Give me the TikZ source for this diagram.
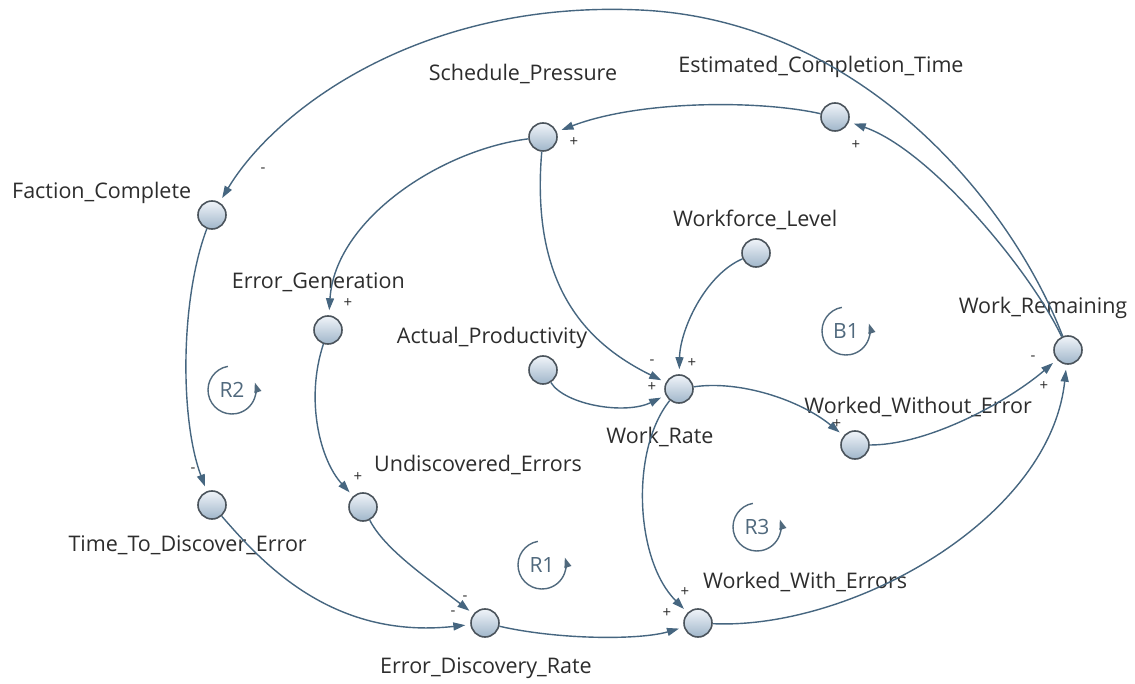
\documentclass[tikz,border=0pt]{standalone}
\usepackage{fontspec}
\setmainfont{Open Sans}
\usetikzlibrary{arrows.meta}
\definecolor{arrc}{RGB}{70,102,128}
\definecolor{txt}{RGB}{45,45,45}
\definecolor{loopc}{RGB}{80,105,125}
\definecolor{nodetop}{RGB}{240,244,249}
\definecolor{nodebot}{RGB}{160,182,202}
\definecolor{nodeline}{RGB}{75,84,92}
\begin{document}
\begin{tikzpicture}[x=1pt,y=-1pt,
 var/.style={circle,draw=nodeline,line width=1.6pt,minimum size=28pt,inner sep=0pt,top color=nodetop,bottom color=nodebot},
 lab/.style={font=\fontsize{21.5}{24}\selectfont,text=txt,inner sep=0pt},
 sgn/.style={font=\fontsize{15}{16}\selectfont,text=txt,inner sep=0pt},
 lnk/.style={draw=arrc,line width=1.4pt,-{Triangle[length=12pt,width=8pt]},shorten >=5pt},
 loopm/.style={draw=loopc,line width=1.4pt,-{Triangle[length=10pt,width=7pt]}},
 looptxt/.style={font=\fontsize{21}{24}\selectfont,text=loopc,inner sep=0pt}]
\fill[white] (0,0) rectangle (1135,684);
\useasboundingbox (0,0) rectangle (1135,684);

% variables
\node[var] (ect)   at (835,117) {};
\node[var] (sp)    at (543,137) {};
\node[var] (fc)    at (212,215) {};
\node[var] (wl)    at (756,253) {};
\node[var] (eg)    at (328,330) {};
\node[var] (wrem)  at (1068,350) {};
\node[var] (ap)    at (543,370) {};
\node[var] (wr)    at (679,389) {};
\node[var] (wwe)   at (855,445) {};
\node[var] (ttd)   at (212,505) {};
\node[var] (ue)    at (363,507) {};
\node[var] (edr)   at (485,623) {};
\node[var] (wwerr) at (698,623) {};

% labels
\node[lab] (lect)  at (821,67) {Estimated\_Completion\_Time};
\node[lab] (lsp)   at (523,74) {Schedule\_Pressure};
\node[lab,anchor=west] (lfc) at (12,193) {Faction\_Complete};
\node[lab,anchor=west] (lwl) at (673,220) {Workforce\_Level};
\node[lab,anchor=east] (leg) at (405,282) {Error\_Generation};
\node[lab] (lwrem) at (1043,308) {Work\_Remaining};
\node[lab] (lap)   at (492,338) {Actual\_Productivity};
\node[lab] (lwr)   at (660,437) {Work\_Rate};
\node[lab,anchor=east] (lwwe) at (1032,407) {Worked\_Without\_Error};
\node[lab,anchor=east] (lttd) at (307,545) {Time\_To\_Discover\_Error};
\node[lab,anchor=west] (lue)  at (374,465) {Undiscovered\_Errors};
\node[lab,anchor=east] (ledr) at (592,668) {Error\_Discovery\_Rate};
\node[lab,anchor=west] (lwwerr) at (703,582) {Worked\_With\_Errors};

% links
\draw[lnk] (wrem) .. controls (1030,270) and (930,150) .. (ect);
\draw[lnk] (ect) .. controls (760,100) and (640,100) .. (sp);
\draw[lnk] (wrem) .. controls (1010,200) and (860,20) .. (640,10)
  .. controls (420,0) and (275,110) .. (fc);
\draw[lnk] (sp) .. controls (440,150) and (335,220) .. (eg);
\draw[lnk] (sp) .. controls (530,290) and (590,345) .. (wr);
\draw[lnk] (wl) .. controls (705,275) and (680,330) .. (wr);
\draw[lnk] (ap) .. controls (565,405) and (625,415) .. (wr);
\draw[lnk] (wr) .. controls (740,380) and (800,400) .. (wwe);
\draw[lnk] (wr) .. controls (630,450) and (635,560) .. (wwerr);
\draw[lnk] (wwe) .. controls (930,445) and (1010,400) .. (wrem);
\draw[lnk] (wwerr) .. controls (850,630) and (1050,520) .. (wrem);
\draw[lnk] (fc) .. controls (180,300) and (180,420) .. (ttd);
\draw[lnk] (eg) .. controls (305,400) and (320,460) .. (ue);
\draw[lnk] (ttd) .. controls (260,560) and (330,640) .. (edr);
\draw[lnk] (ue) .. controls (385,550) and (430,580) .. (edr);
\draw[lnk] (edr) .. controls (560,640) and (640,640) .. (wwerr);

% polarity signs
\node[sgn] (s1)  at (574,142) {+};
\node[sgn] (s2)  at (856,145) {+};
\node[sgn] (s3)  at (263,170) {-};
\node[sgn] (s4)  at (348,303) {+};
\node[sgn] (s5)  at (652,362) {-};
\node[sgn] (s6)  at (692,363) {+};
\node[sgn] (s7)  at (652,387) {+};
\node[sgn] (s8)  at (837,424) {+};
\node[sgn] (s9)  at (1033,358) {-};
\node[sgn] (s10) at (1044,386) {+};
\node[sgn] (s11) at (193,470) {-};
\node[sgn] (s12) at (358,477) {+};
\node[sgn] (s13) at (465,598) {-};
\node[sgn] (s14) at (453,613) {-};
\node[sgn] (s15) at (685,592) {+};
\node[sgn] (s16) at (667,613) {+};

% loop markers
\foreach \nm/\cx/\cy in {R2/232/390, B1/846/331, R3/757/527, R1/542/565}{
  \node[looptxt] (loop\nm) at (\cx,\cy) {\nm};
  \draw[loopm] (\cx,\cy) ++(-100:24) arc[start angle=-100,end angle=-378,radius=24];
}
\end{tikzpicture}
\end{document}
